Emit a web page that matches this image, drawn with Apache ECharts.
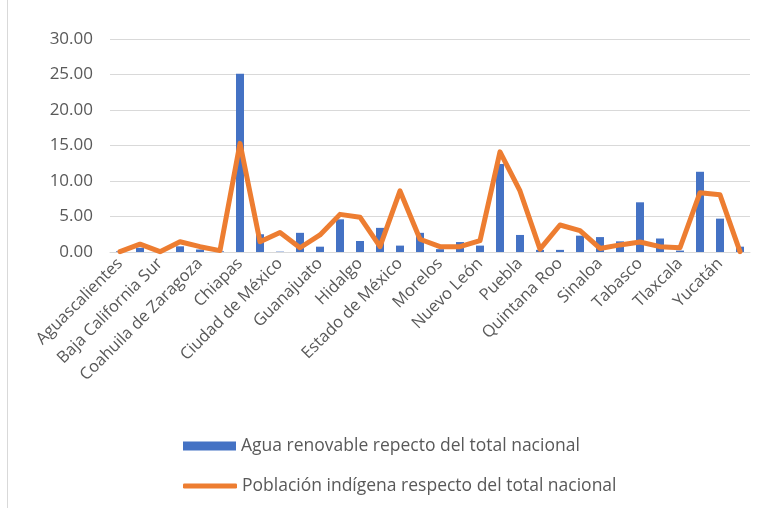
<!DOCTYPE html>
<html>
<head>
<meta charset="utf-8">
<script src="https://cdn.jsdelivr.net/npm/echarts@6/dist/echarts.min.js"></script>
<style>
html,body{margin:0;padding:0;background:#fff;}
#chart{width:775px;height:508px;}
</style>
</head>
<body>
<div id="chart"></div>
<script>
const estados = ["Aguascalientes","Baja California","Baja California Sur","Campeche","Coahuila de Zaragoza","Colima","Chiapas","Chihuahua","Ciudad de México","Durango","Guanajuato","Guerrero","Hidalgo","Jalisco","Estado de México","Michoacán","Morelos","Nayarit","Nuevo León","Oaxaca","Puebla","Querétaro","Quintana Roo","San Luis Potosí","Sinaloa","Sonora","Tabasco","Tamaulipas","Tlaxcala","Veracruz","Yucatán","Zacatecas"];
const aguaRenovable = [0.1,0.6,0.1,0.8,0.35,0.1,25.1,2.5,0.05,2.7,0.75,4.6,1.55,3.4,0.9,2.7,0.4,1.4,0.9,12.4,2.4,0.3,0.3,2.3,2.1,1.5,7.0,1.9,0.2,11.3,4.7,0.75];
const poblacionIndigena = [0.05,1.1,0.05,1.45,0.75,0.2,15.3,1.45,2.75,0.6,2.4,5.3,4.9,0.75,8.6,1.8,0.75,0.75,1.6,14.1,8.6,0.4,3.8,3.0,0.5,1.0,1.4,0.75,0.6,8.35,8.05,0.05];
const nombreAgua = "Agua renovable repecto del total nacional";
const nombrePob = "Población indígena respecto del total nacional";
const yMin = 0, yMax = 30, yStep = 5;

const chart = echarts.init(document.getElementById('chart'), null, {renderer:'canvas'});
const txt = '#595959';
const fam = '"Open Sans", "Noto Sans", sans-serif';
chart.setOption({
  animation:false,
  backgroundColor:'#fff',
  textStyle:{fontFamily:fam},
  graphic:[{type:'line',shape:{x1:7.5,y1:0,x2:7.5,y2:508},style:{stroke:'#d9d9d9',lineWidth:1}}],
  grid:{left:110,right:25,top:39,bottom:256,containLabel:false},
  legend:[
    {data:[{name:nombreAgua,icon:'rect'}],left:183,top:437,padding:0,itemWidth:53,itemHeight:9,itemGap:5,
     textStyle:{color:txt,fontSize:17.5,fontFamily:fam}},
    {data:[{name:nombrePob,icon:'roundRect'}],left:183,top:477,padding:0,itemWidth:54,itemHeight:5,itemGap:5,
     textStyle:{color:txt,fontSize:17.5,fontFamily:fam}}
  ],
  xAxis:{type:'category',data:estados,
    axisLine:{lineStyle:{color:'#d9d9d9',width:1}},
    axisTick:{show:false},
    axisLabel:{interval:1,rotate:45,color:txt,fontSize:16.5,fontFamily:fam,margin:9}
  },
  yAxis:{type:'value',min:yMin,max:yMax,interval:yStep,
    axisLine:{show:false},axisTick:{show:false},
    splitLine:{lineStyle:{color:'#d9d9d9',width:1}},
    axisLabel:{color:txt,fontSize:17,fontFamily:fam,margin:17,formatter:v=>v.toFixed(2)}
  },
  series:[
    {name:nombreAgua,type:'bar',data:aguaRenovable,barWidth:8,itemStyle:{color:'#4472C4'}},
    {name:nombrePob,type:'line',data:poblacionIndigena,showSymbol:false,symbol:'none',
     lineStyle:{color:'#ED7D31',width:5,cap:'round',join:'round'},itemStyle:{color:'#ED7D31'}}
  ]
});
</script>
</body>
</html>
